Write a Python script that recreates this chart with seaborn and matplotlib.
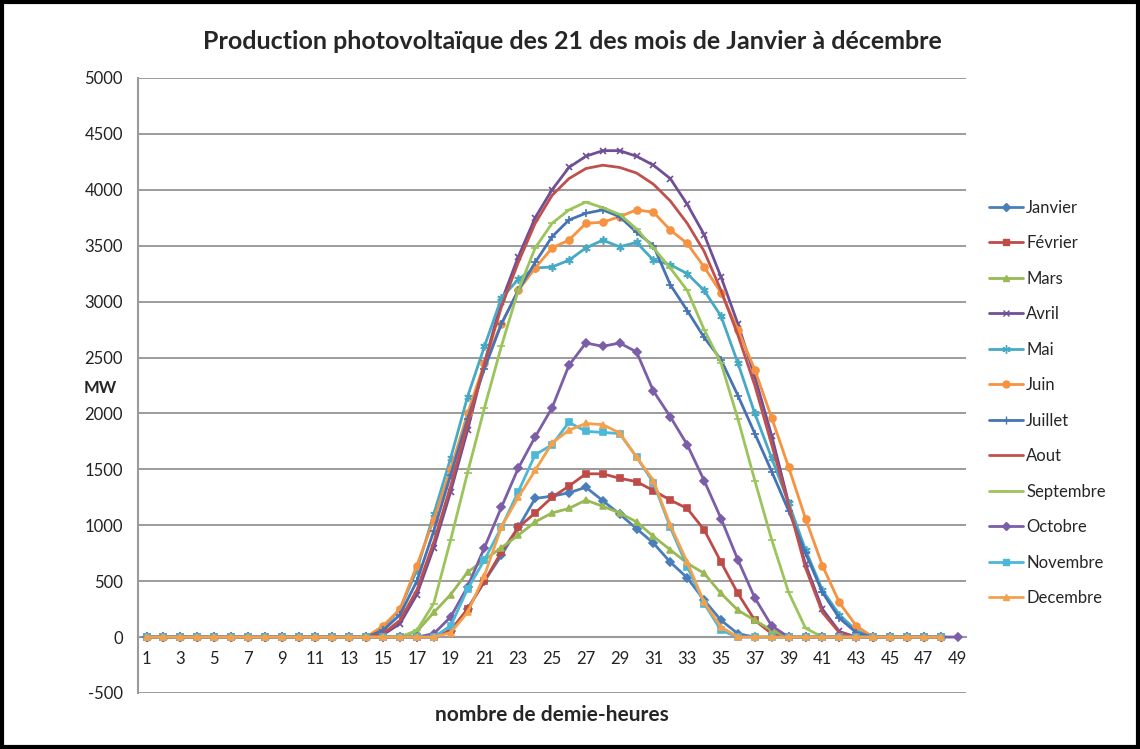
import numpy as np
import pandas as pd
import seaborn as sns
import matplotlib.pyplot as plt
from matplotlib.lines import Line2D

# production PV (MW) par demi-heure, le 21 de chaque mois
demi_heures = list(range(1, 50))
mois = ['Janvier', 'Février', 'Mars', 'Avril', 'Mai', 'Juin', 'Juillet', 'Aout',
        'Septembre', 'Octobre', 'Novembre', 'Decembre']

janvier = [0]*18 + [50, 250, 500, 730, 980, 1240, 1260, 1290, 1340, 1220, 1100, 970, 840, 670,
                    530, 330, 150, 30] + [0]*12
fevrier = [0]*18 + [60, 250, 500, 760, 980, 1110, 1250, 1350, 1460, 1460, 1420, 1390, 1310, 1225,
                    1150, 960, 670, 390, 150, 30] + [0]*10
mars = [0]*16 + [50, 220, 380, 580, 690, 800, 910, 1030, 1110, 1150, 1225, 1170, 1110, 1030, 900,
                 780, 660, 570, 390, 240, 150, 60] + [0]*10
avril = [0]*14 + [20, 120, 380, 800, 1300, 1850, 2450, 3000, 3400, 3750, 4000, 4200, 4300, 4350,
                  4350, 4300, 4220, 4100, 3870, 3600, 3220, 2800, 2330, 1800, 1200, 650, 250, 50] + [0]*6
mai = [0]*14 + [80, 250, 600, 1100, 1600, 2150, 2600, 3030, 3200, 3300, 3310, 3370, 3480, 3550,
                3490, 3530, 3370, 3330, 3250, 3100, 2870, 2450, 2000, 1600, 1200, 780, 420, 200, 60] + [0]*5
juin = [0]*14 + [100, 250, 640, 1050, 1500, 2000, 2450, 2800, 3100, 3300, 3480, 3550, 3700, 3710,
                 3760, 3820, 3800, 3640, 3520, 3310, 3080, 2750, 2390, 1960, 1520, 1060, 640, 310, 100] + [0]*5
juillet = [0]*14 + [60, 200, 500, 950, 1450, 1950, 2400, 2800, 3100, 3350, 3580, 3730, 3790, 3820,
                    3760, 3620, 3500, 3150, 2920, 2680, 2480, 2160, 1820, 1480, 1130, 750, 400, 170, 40] + [0]*5
aout = [0]*14 + [30, 150, 420, 850, 1350, 1900, 2450, 2950, 3350, 3700, 3950, 4100, 4190, 4220,
                 4200, 4150, 4050, 3900, 3700, 3450, 3100, 2700, 2250, 1720, 1180, 620, 220, 40] + [0]*6
septembre = [0]*16 + [60, 300, 870, 1470, 2050, 2600, 3100, 3480, 3700, 3820, 3890, 3840, 3780,
                      3650, 3480, 3300, 3100, 2750, 2450, 1950, 1400, 870, 400, 80] + [0]*8
octobre = [0]*17 + [30, 180, 450, 800, 1160, 1510, 1790, 2050, 2430, 2630, 2600, 2630, 2550, 2200,
                    1970, 1720, 1400, 1060, 690, 350, 100] + [0]*11
novembre = [0]*18 + [100, 430, 690, 980, 1300, 1630, 1720, 1920, 1840, 1830, 1820, 1610, 1380, 980,
                     630, 300, 60] + [0]*13
decembre = [0]*18 + [40, 220, 550, 984, 1250, 1490, 1735, 1850, 1910, 1900, 1825, 1610, 1400, 1000,
                     670, 310, 90] + [0]*13

series = [janvier, fevrier, mars, avril, mai, juin, juillet, aout, septembre, octobre, novembre, decembre]

couleurs = ['#4A7EBB', '#BE4B48', '#98B954', '#6F4F96', '#46AAC5', '#F69240',
            '#4573B5', '#C0504D', '#9BC45B', '#7B5EA7', '#4BB8D8', '#F5A04A']
marqueurs = ['D', 's', '^', 'x', (6, 2, 0), 'o', '+', None, '_', 'D', 's', '^']
tailles = [4, 5, 5, 5, 6, 5, 6, 0, 6, 4, 5, 5]

rows = []
for m, vals in zip(mois, series):
    for x, v in zip(demi_heures, vals):
        rows.append((m, x, v))
df = pd.DataFrame(rows, columns=['mois', 'demi_heure', 'MW'])

sns.set_style('white')
plt.rcParams['font.family'] = ['Lato', 'DejaVu Sans']
plt.rcParams['axes.unicode_minus'] = False

fig = plt.figure(figsize=(11.4, 7.49), dpi=100)
ax = fig.add_axes([0.1211, 0.0748, 0.7263, 0.8211])

for m, c, mk, ms in zip(mois, couleurs, marqueurs, tailles):
    d = df[df['mois'] == m]
    sns.lineplot(data=d, x='demi_heure', y='MW', ax=ax, color=c, lw=2,
                 marker=mk, markersize=ms, markeredgecolor=c, markeredgewidth=1.2,
                 legend=False, zorder=3)

ax.set_xlim(0.5, 49.5)
ax.set_ylim(-500, 5000)
ax.set_yticks(range(-500, 5001, 500))
ax.set_xticks(range(1, 50, 2))
ax.set_xticks(np.arange(0.5, 50, 1), minor=True)
ax.grid(axis='y', color='#8a8a8a', lw=1.2)
ax.grid(axis='x', visible=False)
for s in ['top', 'right']:
    ax.spines[s].set_visible(False)
ax.spines['left'].set_color('#9a9a9a')
ax.spines['left'].set_linewidth(1.5)
ax.spines['bottom'].set_position(('data', 0))
ax.spines['bottom'].set_color('#9a9a9a')
ax.spines['bottom'].set_linewidth(1.5)
ax.tick_params(axis='x', which='major', length=0, labelsize=12, pad=10, colors='#222222')
ax.tick_params(axis='x', which='minor', length=5, width=1, color='#9a9a9a', direction='out')
ax.tick_params(axis='y', length=5, width=1, color='#9a9a9a', labelsize=12, pad=6, labelcolor='#222222')

ax.set_xlabel('')
ax.set_ylabel('')
fig.text(0.088, 0.482, 'MW', fontsize=12, fontweight='bold', ha='center', va='center')
fig.text(0.484, 0.045, 'nombre de demie-heures', fontsize=15, fontweight='bold', ha='center', va='center')
fig.text(0.502, 0.944, 'Production photovoltaïque des 21 des mois de Janvier à décembre',
         fontsize=18, fontweight='bold', ha='center', va='center')

handles = [Line2D([0], [0], color=c, lw=2, marker=mk, markersize=ms, markeredgecolor=c)
           for c, mk, ms in zip(couleurs, marqueurs, tailles)]
fig.legend(handles, mois, loc='center left', bbox_to_anchor=(0.862, 0.462), frameon=False,
           fontsize=12, labelspacing=1.17, handlelength=2.0, handletextpad=0.2, borderaxespad=0)

# cadre noir autour du graphique
fig.patches.append(plt.Rectangle((0.002, 0.003), 0.996, 0.994, transform=fig.transFigure,
                                 fill=False, edgecolor='black', lw=3))

plt.savefig('out.png', dpi=100)
plt.close()
